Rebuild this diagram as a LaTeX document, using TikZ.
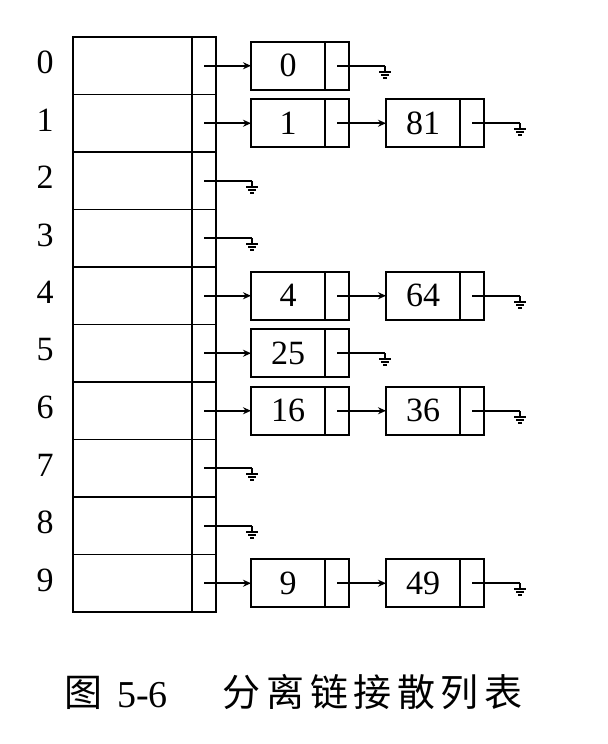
\documentclass[tikz,border=0pt]{standalone}
\usepackage{fontspec}
\setmainfont{Liberation Serif}
\newfontfamily\cjk{Noto Sans CJK SC}
\usetikzlibrary{arrows.meta,positioning}

\tikzset{
  key/.style={draw,minimum width=37pt,minimum height=24pt,inner sep=0pt,
    outer sep=0pt,font=\fontsize{17}{20}\selectfont},
  ptr/.style={draw,minimum width=12pt,minimum height=24pt,inner sep=0pt,
    outer sep=0pt},
  idx/.style={inner sep=0pt,font=\fontsize{17}{20}\selectfont},
  captext/.style={inner sep=0pt,font=\fontsize{19}{22}\selectfont},
  gnd/.pic={
    \draw (0,0) -- (0,6);
    \draw (-6,6) -- (6,6);
    \draw (-4,9) -- (4,9);
    \draw (-2,12) -- (2,12);
  }
}

\begin{document}
\begin{tikzpicture}[x=0.5pt,y=-0.5pt,line width=0.9pt,>={Stealth[length=4pt,width=3.5pt]}]
\useasboundingbox (0,0) rectangle (608,744);
% hash table
\draw (73,37) rectangle (216,612);
\draw (192,37) -- (192,612);
\foreach \k in {1,...,9} \draw (73,37+57.5*\k) -- (216,37+57.5*\k);
\foreach \k in {0,...,9} {
  \node[idx] (i\k) at (45,62.5+57.5*\k) {\k};
  \coordinate (p\k) at (204,65.75+57.5*\k);
}
% first cells
\foreach \k/\v in {0/0,1/1,4/4,5/25,6/16,9/9} {
  \node[key] (a\k) at (288,65.75+57.5*\k) {\v};
  \node[ptr,right=0pt of a\k] (b\k) {};
  \draw[->] (p\k) -- (a\k);
}
% second cells
\foreach \k/\v in {1/81,4/64,6/36,9/49} {
  \node[key] (c\k) at (423,65.75+57.5*\k) {\v};
  \node[ptr,right=0pt of c\k] (d\k) {};
  \draw[->] (b\k.center) -- (c\k);
}
% null pointers
\foreach \k in {2,3,7,8} \draw (p\k) -- ++(48,0) pic {gnd};
\foreach \k in {0,5} \draw (b\k.center) -- ++(48,0) pic {gnd};
\foreach \k in {1,4,6,9} \draw (d\k.center) -- ++(48,0) pic {gnd};
% caption
\node[captext] (fig) at (83.5,693) {\cjk 图};
\node[captext] (num) at (142.5,695) {5-6};
\foreach \c [count=\i] in {分,离,链,接,散,列,表}
  \node[captext] (t\i) at (198.2+43.6*\i,692) {\cjk\c};
\end{tikzpicture}
\end{document}
